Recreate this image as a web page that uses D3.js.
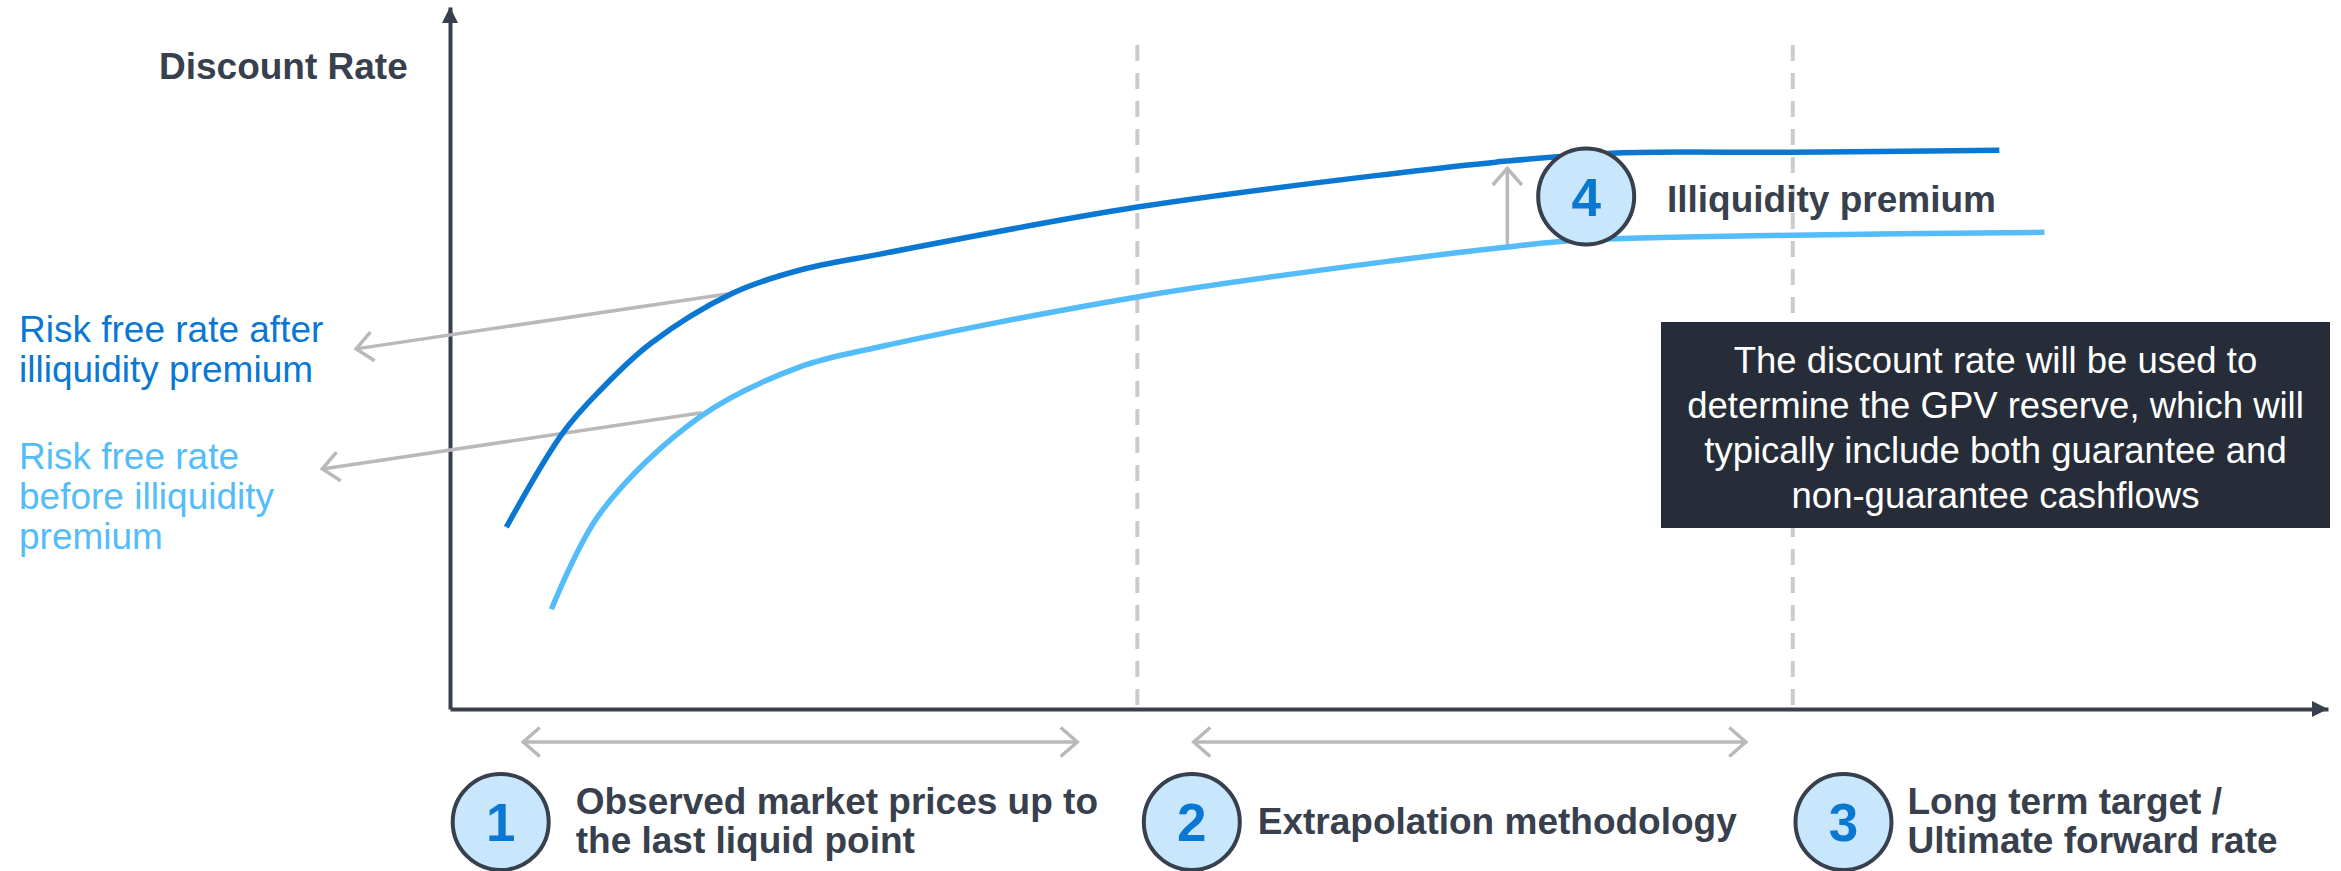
<!DOCTYPE html>
<html>
<head>
<meta charset="utf-8">
<script src="https://cdn.jsdelivr.net/npm/d3@7"></script>
<style>
  html, body { margin: 0; padding: 0; background: #fff; }
  svg { display: block; font-family: "Liberation Sans", Arial, sans-serif; }
</style>
</head>
<body>
<div id="viz"></div>
<script>
// Discount rate curves, before and after the illiquidity premium.
// x = maturity (arbitrary units, 0..100), y = rate (arbitrary units, 0..10)

var afterX    = [3.0, 6.0, 8.0, 10.7, 15.1, 18.6, 22.9, 36.6, 50.6, 55.7, 62.1, 71.5, 82.5];
var afterRate = [2.59, 3.93, 4.54, 5.21, 5.93, 6.25, 6.48, 7.15, 7.64, 7.79, 7.92, 7.93, 7.96];

var beforeX    = [5.4, 8.0, 13.3, 18.6, 22.9, 36.6, 50.6, 56.3, 60.2, 71.5, 84.9];
var beforeRate = [1.42, 2.79, 4.16, 4.87, 5.16, 5.87, 6.40, 6.58, 6.68, 6.75, 6.79];

var phaseBounds = [36.6, 71.5];              // dashed separators
var phaseSpans  = [[3.9, 33.4], [39.6, 69.0]]; // double arrows under the axis
var phaseNums   = ["1", "2", "3"];
var phaseX      = [2.7, 39.5, 74.2];
var phaseLabels = [
  ["Observed market prices up to", "the last liquid point"],
  ["Extrapolation methodology"],
  ["Long term target /", "Ultimate forward rate"]
];

var seriesLabels = [
  ["Risk free rate after", "illiquidity premium"],
  ["Risk free rate", "before illiquidity", "premium"]
];
var noteLines = [
  "The discount rate will be used to",
  "determine the GPV reserve, which will",
  "typically include both guarantee and",
  "non-guarantee cashflows"
];

var W = 2341, H = 871;
var DARK = "#383f4d", GREY = "#b9b9b9";
var BLUE = "#0a78d2", LIGHT = "#55bcfa", FILL = "#c8e6fc";

var x = d3.scaleLinear().domain([0, 100]).range([450, 2328]);
var y = d3.scaleLinear().domain([0, 10]).range([709, 7]);

var svg = d3.select("#viz").append("svg")
  .attr("width", W).attr("height", H);

// dashed phase separators
svg.selectAll("line.sep").data(phaseBounds).enter().append("line")
  .attr("class", "sep")
  .attr("x1", function(d) { return x(d); }).attr("x2", function(d) { return x(d); })
  .attr("y1", 45).attr("y2", y(0))
  .attr("stroke", "#cacccc").attr("stroke-width", 4)
  .attr("stroke-dasharray", "16,12");

// axes, no ticks, just the domain lines with arrow heads
svg.append("g").attr("transform", "translate(0," + y(0) + ")")
  .call(d3.axisBottom(x).tickValues([]).tickSizeOuter(0))
  .select(".domain").attr("stroke", DARK).attr("stroke-width", 4);
svg.append("g").attr("transform", "translate(" + x(0) + ",0)")
  .call(d3.axisLeft(y).tickValues([]).tickSizeOuter(0))
  .select(".domain").attr("stroke", DARK).attr("stroke-width", 4);

svg.append("path")
  .attr("d", "M" + (x(100) - 16) + "," + (y(0) - 8) + "L" + x(100) + "," + y(0) + "L" + (x(100) - 16) + "," + (y(0) + 8) + "Z")
  .attr("fill", DARK);
svg.append("path")
  .attr("d", "M" + (x(0) - 8) + "," + (y(10) + 16) + "L" + x(0) + "," + y(10) + "L" + (x(0) + 8) + "," + (y(10) + 16) + "Z")
  .attr("fill", DARK);

svg.append("text")
  .attr("x", 159).attr("y", 79)
  .attr("font-size", 37).attr("font-weight", "bold").attr("fill", DARK)
  .text("Discount Rate");

// open-chevron arrow from (x1,y1) to (x2,y2), in pixels
function arrow(g, x1, y1, x2, y2, both) {
  g.append("line")
    .attr("x1", x1).attr("y1", y1).attr("x2", x2).attr("y2", y2)
    .attr("stroke", GREY).attr("stroke-width", 3.5);
  var heads = both ? [[x2, y2, x1, y1], [x1, y1, x2, y2]] : [[x1, y1, x2, y2]];
  heads.forEach(function(h) {
    var a = Math.atan2(h[3] - h[1], h[2] - h[0]);
    var L = 22, sp = 0.72;
    var p1 = [h[2] - L * Math.cos(a - sp), h[3] - L * Math.sin(a - sp)];
    var p2 = [h[2] - L * Math.cos(a + sp), h[3] - L * Math.sin(a + sp)];
    g.append("path")
      .attr("d", "M" + p1 + "L" + h[2] + "," + h[3] + "L" + p2)
      .attr("fill", "none").attr("stroke", GREY).attr("stroke-width", 3.5)
      .attr("stroke-linejoin", "miter");
  });
}

var ann = svg.append("g");

// pointers from the curves to the series labels
arrow(ann, x(15.2), y(5.93), x(-5.0), y(5.13));
arrow(ann, x(13.4), y(4.22), x(-6.8), y(3.42));

// illiquidity premium gap
arrow(ann, x(56.3), y(6.58), x(56.3), y(7.7));

// curves
var line = d3.line()
  .x(function(d) { return x(d[0]); })
  .y(function(d) { return y(d[1]); })
  .curve(d3.curveCatmullRom.alpha(0.5));

svg.append("path")
  .datum(d3.zip(beforeX, beforeRate))
  .attr("d", line)
  .attr("fill", "none").attr("stroke", LIGHT).attr("stroke-width", 5.5);
svg.append("path")
  .datum(d3.zip(afterX, afterRate))
  .attr("d", line)
  .attr("fill", "none").attr("stroke", BLUE).attr("stroke-width", 5.5);

// series labels on the left
var labelColors = [BLUE, LIGHT];
var labelY = [342, 469];
seriesLabels.forEach(function(lines, i) {
  var t = svg.append("text")
    .attr("x", 19).attr("y", labelY[i])
    .attr("font-size", 37).attr("fill", labelColors[i]);
  lines.forEach(function(s, j) {
    t.append("tspan").attr("x", 19).attr("dy", j ? 40 : 0).text(s);
  });
});

// numbered circle badge
function badge(cx, cy, num) {
  svg.append("circle")
    .attr("cx", cx).attr("cy", cy).attr("r", 48)
    .attr("fill", FILL).attr("stroke", DARK).attr("stroke-width", 4);
  svg.append("text")
    .attr("x", cx).attr("y", cy + 19)
    .attr("text-anchor", "middle")
    .attr("font-size", 53).attr("font-weight", "bold").attr("fill", BLUE)
    .text(num);
}

badge(x(60.5), 196.5, "4");
svg.append("text")
  .attr("x", 1667).attr("y", 212)
  .attr("font-size", 37).attr("font-weight", "bold").attr("fill", DARK)
  .text("Illiquidity premium");

// phase arrows and labels below the axis
phaseSpans.forEach(function(s) {
  arrow(ann, x(s[0]), 742, x(s[1]), 742, true);
});

var labelOffset = [75, 66, 64];
phaseNums.forEach(function(n, i) {
  var cx = x(phaseX[i]);
  badge(cx, 822, n);
  var lines = phaseLabels[i];
  var y0 = lines.length === 1 ? 834 : 814;
  var t = svg.append("text")
    .attr("x", cx + labelOffset[i]).attr("y", y0)
    .attr("font-size", 37).attr("font-weight", "bold").attr("fill", DARK);
  lines.forEach(function(s, j) {
    t.append("tspan").attr("x", cx + labelOffset[i]).attr("dy", j ? 39 : 0).text(s);
  });
});

// note box
svg.append("rect")
  .attr("x", 1661).attr("y", 322).attr("width", 669).attr("height", 206)
  .attr("fill", "#262d38");
var note = svg.append("text")
  .attr("x", 1995.5).attr("y", 373)
  .attr("text-anchor", "middle")
  .attr("font-size", 36.5).attr("fill", "#ffffff");
noteLines.forEach(function(s, j) {
  note.append("tspan").attr("x", 1995.5).attr("dy", j ? 45 : 0).text(s);
});
</script>
</body>
</html>
